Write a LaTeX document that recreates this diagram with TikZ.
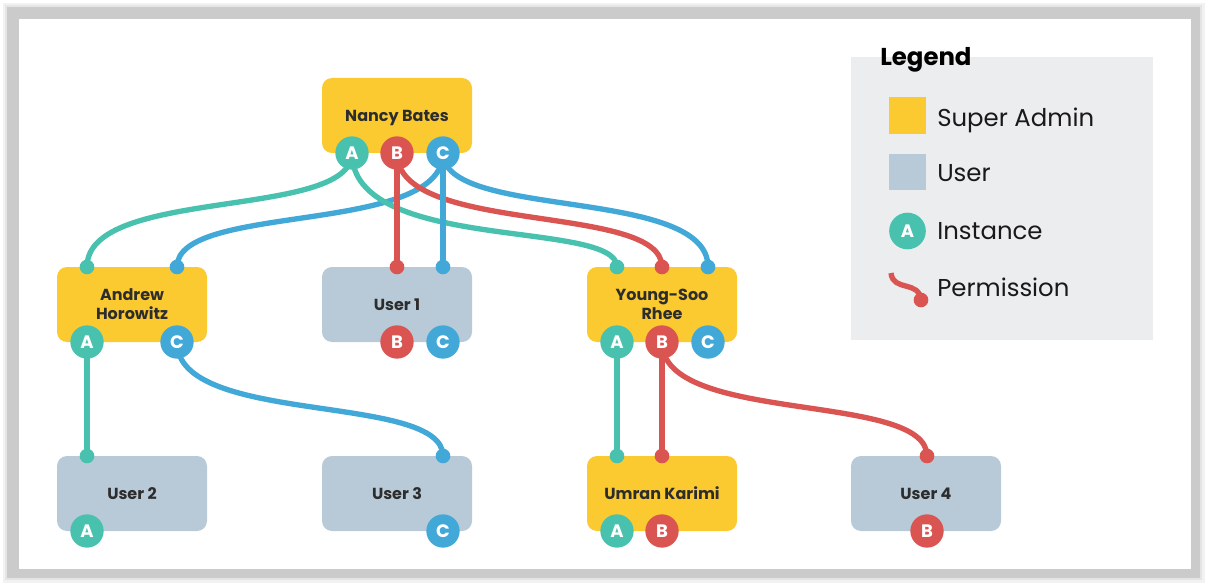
\documentclass[tikz,border=0pt]{standalone}
\usepackage{fontspec}
\setmainfont{Poppins}
\definecolor{ylw}{HTML}{FBCA30}
\definecolor{usrc}{HTML}{B8CAD7}
\definecolor{grn}{HTML}{48C2AF}
\definecolor{rd}{HTML}{DA5452}
\definecolor{blu}{HTML}{42A8D8}
\definecolor{txt}{HTML}{2D2D2D}
\definecolor{lgbg}{HTML}{ECEDEF}
\definecolor{frm}{HTML}{CBCBCB}
\tikzset{
  box/.style={rectangle, rounded corners=7.5pt, minimum width=112.5pt, minimum height=56.25pt,
    inner sep=0pt, font=\bfseries\fontsize{12}{14.3}\selectfont, text=txt, align=center},
  admin/.style={box, fill=ylw},
  usr/.style={box, fill=usrc},
  inst/.style={circle, minimum size=25pt, inner sep=0pt, text=white, font=\bfseries\fontsize{13.5}{13.5}\selectfont},
  ia/.style={inst, fill=grn},
  ib/.style={inst, fill=rd},
  ic/.style={inst, fill=blu},
  pdot/.style={circle, minimum size=11pt, inner sep=0pt},
  perm/.style={line width=4pt},
  lgtext/.style={anchor=base west, inner sep=0pt, text=black!90, font=\fontsize{18.3}{21}\selectfont},
}
\begin{document}
\begin{tikzpicture}[x=0.75pt,y=-0.75pt]
\useasboundingbox (0,0) rectangle (1210,588);
% frame with soft shadow
\fill[black!20, opacity=0.25] (3,3) rectangle (1205,583);
\fill[black!20, opacity=0.35] (5,5) rectangle (1202,580);
\fill[frm] (7,7) rectangle (1200,578);
\fill[white] (19,19) rectangle (1191,569);

% boxes
\node[admin] (nancy) at (397,115.5) {Nanc\smash{y} Bates};
\node[admin] (andrew) at (132,304.5) {Andrew\\Horowitz};
\node[usr] (user1) at (397,304.5) {User 1};
\node[admin] (young) at (662,304.5) {Young-Soo\\Rhee};
\node[usr] (user2) at (132,493.5) {User 2};
\node[usr] (user3) at (397,493.5) {User 3};
\node[admin] (umran) at (662,493.5) {Umran Karimi};
\node[usr] (user4) at (926,493.5) {User 4};

% instance anchors (positions)
\coordinate (nA) at (352,153);
\coordinate (nB) at (397,153);
\coordinate (nC) at (443,153);
\coordinate (aTA) at (87,267);
\coordinate (aTC) at (177,267);
\coordinate (u1TB) at (397,267);
\coordinate (u1TC) at (443,267);
\coordinate (yTA) at (617,267);
\coordinate (yTB) at (662,267);
\coordinate (yTC) at (708,267);
\coordinate (aA) at (87,342);
\coordinate (aC) at (177,342);
\coordinate (yA) at (617,342);
\coordinate (yB) at (662,342);
\coordinate (yC) at (708,342);
\coordinate (u2T) at (87,456);
\coordinate (u3T) at (443,456);
\coordinate (umTA) at (617,456);
\coordinate (umTB) at (662,456);
\coordinate (u4T) at (927,456);

% connectors
\draw[perm, draw=grn] (nA) .. controls (nA |- 0,220.3) and (aTA |- 0,186.1) .. (aTA);
\draw[perm, draw=blu] (nC) .. controls (nC |- 0,236.2) and (aTC |- 0,202) .. (aTC);
\draw[perm, draw=grn] (nA) .. controls (nA |- 0,253.3) and (yTA |- 0,219.1) .. (yTA);
\draw[perm, draw=rd] (nB) .. controls (nB |- 0,236.2) and (yTB |- 0,202) .. (yTB);
\draw[perm, draw=blu] (nC) .. controls (nC |- 0,220.3) and (yTC |- 0,186.1) .. (yTC);
\draw[perm, draw=rd] (nB) -- (u1TB);
\draw[perm, draw=blu] (nC) -- (u1TC);
\draw[perm, draw=grn] (aA) -- (u2T);
\draw[perm, draw=blu] (aC) .. controls (aC |- 0,426.4) and (u3T |- 0,392.2) .. (u3T);
\draw[perm, draw=grn] (yA) -- (umTA);
\draw[perm, draw=rd] (yB) -- (umTB);
\draw[perm, draw=rd] (yB) .. controls (yB |- 0,425.2) and (u4T |- 0,391) .. (u4T);

% dots
\node[pdot, fill=grn] at (aTA) {};
\node[pdot, fill=blu] at (aTC) {};
\node[pdot, fill=rd] at (u1TB) {};
\node[pdot, fill=blu] at (u1TC) {};
\node[pdot, fill=grn] at (yTA) {};
\node[pdot, fill=rd] at (yTB) {};
\node[pdot, fill=blu] at (yTC) {};
\node[pdot, fill=grn] at (u2T) {};
\node[pdot, fill=blu] at (u3T) {};
\node[pdot, fill=grn] at (umTA) {};
\node[pdot, fill=rd] at (umTB) {};
\node[pdot, fill=rd] at (u4T) {};

% instance circles
\node[ia] (cnA) at (nA) {A};
\node[ib] (cnB) at (nB) {B};
\node[ic] (cnC) at (nC) {C};
\node[ia] (caA) at (aA) {A};
\node[ic] (caC) at (aC) {C};
\node[ib] (c1B) at (397,342) {B};
\node[ic] (c1C) at (443,342) {C};
\node[ia] (cyA) at (yA) {A};
\node[ib] (cyB) at (yB) {B};
\node[ic] (cyC) at (yC) {C};
\node[ia] (c2A) at (87,531) {A};
\node[ic] (c3C) at (443,531) {C};
\node[ia] (cuA) at (617,531) {A};
\node[ib] (cuB) at (662,531) {B};
\node[ib] (c4B) at (927,531) {B};

% legend
\fill[lgbg] (851,57) rectangle (1153,340);
\node[anchor=base west, inner sep=0pt, text=black, font=\bfseries\fontsize{18.3}{21}\selectfont] (lgtitle) at (880,66) {Legend};
\node[fill=ylw, minimum size=27.5pt, inner sep=0pt] (lgadmin) at (907.5,115.5) {};
\node[lgtext] (lgadmint) at (937,127) {Super Admin};
\node[fill=usrc, minimum size=27.5pt, inner sep=0pt] (lgusr) at (907.5,172) {};
\node[lgtext] (lgusrt) at (937,182) {User};
\node[inst, fill=grn, minimum size=27.5pt] (lginst) at (907.5,231) {A};
\node[lgtext] (lginstt) at (937,239) {Instance};
\coordinate (lgp1) at (891,273);
\coordinate (lgp2) at (921,300);
\draw[perm, draw=rd] (lgp1) .. controls (893,292) and (919,280) .. (lgp2);
\node[pdot, fill=rd, minimum size=11pt] (lgpdot) at (lgp2) {};
\node[lgtext] (lgpermt) at (937,296) {Permission};
\end{tikzpicture}
\end{document}
